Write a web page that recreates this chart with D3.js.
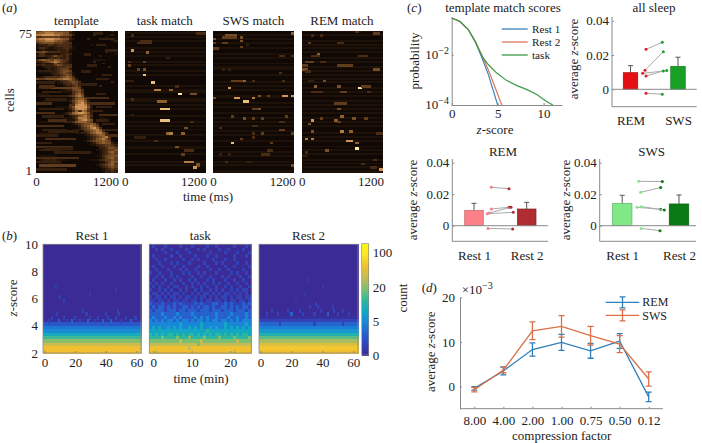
<!DOCTYPE html>
<html><head><meta charset="utf-8">
<script src="https://cdn.jsdelivr.net/npm/d3@7"></script>
<style>
html,body{margin:0;padding:0;background:#fff}
svg{display:block}
text{font-family:"Liberation Serif",serif;fill:#222;font-size:13px}
.soft{shape-rendering:crispEdges;filter:blur(.4px)}
</style></head><body><svg id="c" width="702" height="443"></svg>
<script>
// ---------- DATA ----------
const rasterBins = 27;
const templateRows = [
"446665544443100000000100020","566777666552100000000000000","778888776554200000020000120","334444443332000000000001000",
"677888776552100002000000200","566777655431000000000000012","345555444333000000000000000","122233233332000000100000000",
"111221233333000000000001010","133211222332100000000000000","012111122231000000000000000","445433332221000000000002000",
"133111112232000000000000001","233223533231000000000200000","000123232231000000000000000","356554654331000000000000000",
"223456764321000000020000000","012112533221000000000020000","223222454333000000000000000","001222233343000000000000200",
"000121234442000000000000000","122222234554000000000000000","011112234543100000000000000","000001223454100000000000000",
"112333334565300000000000000","544555566776420000000200000","000011223345431000000000000","000000112334543000000000020",
"000001011233442000000000000","000000000122343000000200000","123334444444554100000000000","000000001122455300000000000",
"000001001111345300000000000","000000000001356400000000000","122222222223467510000000000","000000000001245530000000000",
"000000000001356641000000000","001111111112467752000000000","000000000001367863000000000","000000000001378874100000000",
"000000011113588885200000000","000000000012478874100000000","000000000001367763000000000","000000000123678875200000000",
"000011111124566664200000000","000000000001235675300000000","000000000111247775200110000","000000000001136786500000000",
"011111111222356665410000000","000000000000123455653000000","000000000000012456764100000","000000000000001345786300000",
"000000000000112345677520000","000000000000000134567630000","011111110000011223567753000","000000000000000012345663000",
"000000000000000001234567400","000000000000000001235675300","000000000000000012345565410","000000000000000000124565521",
"000000000000000000112334432","000000000000000000001234443","000000000000000000000223554","122222221111000000001123445",
"000000000000000000000123564","000000000000000000000123454","011111100000000000001134555","000000000000000000000124564",
"012222211100000000111234454","000000000000000000000113465","000011111000000000000123563","000000000000000000001234564",
"011111000000000000000123454","000000000000000000000012343","000000000000000000000012232"];
// faint streaks of the template: [row from top, first bin, bins, level]
const templateStreaks = [[1,19,3,2],[4,21,5,2],[7,20,3,2],[10,23,4,2],[12,16,2,2],[15,19,4,1],[18,17,3,2],[21,15,3,2],[23,22,3,2],[25,20,4,2],
[27,0,6,2],[29,1,5,3],[32,2,6,2],[33,0,4,1],[36,3,7,2],[38,0,5,3],[41,1,8,2],[43,0,6,3],[45,2,7,2],[47,4,6,3],[50,0,9,3],[52,2,8,2],[53,4,10,2],[55,0,7,2],[57,3,10,3],[59,0,5,2],[61,0,12,3],[62,3,9,2],[64,6,12,2],[67,0,14,3],[69,0,8,2],[71,1,12,4],[73,0,10,2],
[28,15,5,2],[33,20,3,2],[35,17,7,3],[38,18,8,3],[40,20,5,2],[42,18,4,2],[44,21,6,3],[47,20,4,2],[49,22,4,2],[52,23,4,2],[55,24,3,3],[39,11,1,3],[42,14,1,3]];

const taskBase = "010101000101010010100101000001011000110101000100101010010010011001000101000";
const swsBase  = "001010100100101001011001000101010011001010010010101001010010010010100101001";
const remBase  = "101001010101001010010101010100101010010101010010101000101010010101001010101";
// [row from top, first bin, bins, level]
const taskHot = [[1,24,3,3],[2,2,1,3],[5,5,4,3],[6,4,5,3],[10,2,1,8],[11,7,1,6],[16,6,1,4],[16,1,1,3],[18,1,1,4],[20,4,1,4],[20,6,1,5],[23,6,1,9],[26,0,3,2],[27,9,1,9],[31,10,2,7],[31,15,1,6],[33,18,1,10],[33,22,2,5],[37,11,3,6],[41,12,3,9],[47,12,3,9],[51,20,1,5],[54,14,1,6],[54,15,1,7],[54,19,1,6],[56,3,4,2],[61,17,1,5],[63,20,3,3],[65,19,1,4],[69,20,3,7],[70,24,1,5],[71,24,1,5],[72,23,1,8],[36,2,1,3],[44,2,1,2],[48,22,1,3],[58,10,1,3],[14,14,1,2],[29,17,1,3]];
const swsHot = [[1,26,1,6],[2,4,4,5],[3,3,5,4],[3,9,1,5],[4,0,1,5],[5,9,1,5],[6,3,2,4],[6,0,1,4],[7,11,1,2],[9,0,2,4],[8,9,1,4],[13,22,2,3],[13,26,1,3],[20,3,1,2],[20,5,1,2],[22,22,1,3],[26,6,5,4],[26,10,1,6],[26,13,1,3],[26,23,1,3],[30,5,1,8],[34,15,1,5],[34,18,1,4],[34,23,2,8],[34,26,1,8],[35,0,1,5],[35,7,2,8],[35,13,1,7],[37,10,2,9],[41,13,3,4],[41,15,1,5],[45,6,1,4],[45,24,1,4],[46,10,1,5],[46,13,1,4],[46,16,1,4],[48,22,2,3],[50,13,2,3],[51,2,1,3],[52,22,2,4],[54,16,1,4],[54,13,1,3],[54,26,1,4],[56,13,1,3],[57,9,1,4],[59,6,1,9],[59,19,1,4],[63,18,2,3],[65,16,3,3],[65,2,1,2],[65,5,1,2],[69,11,2,2],[69,4,1,3],[71,26,1,5]];
const remHot = [[0,18,1,3],[1,24,2,4],[2,3,1,3],[2,6,1,3],[6,2,1,4],[6,12,2,3],[12,5,1,6],[13,3,3,3],[13,19,3,3],[16,1,3,4],[16,6,2,3],[18,12,5,4],[18,0,2,4],[20,0,2,5],[20,24,2,5],[21,1,2,3],[26,7,1,5],[26,2,2,2],[29,4,1,6],[29,12,1,5],[30,19,1,10],[29,20,3,4],[32,3,4,3],[32,13,2,4],[32,22,1,3],[38,11,4,4],[41,12,1,5],[45,13,1,6],[46,6,1,4],[46,17,1,5],[46,21,1,4],[47,3,1,8],[47,11,1,6],[49,2,1,5],[48,12,1,4],[53,13,1,7],[53,16,1,6],[53,3,1,5],[54,25,2,3],[57,1,1,7],[57,3,1,7],[58,15,2,8],[59,18,1,6],[62,18,1,10],[63,8,1,5],[64,1,1,3],[68,24,1,3],[70,20,1,3],[72,23,2,3],[73,26,1,8],[66,0,2,2]];

// z-score rows, top (z = 10) to bottom (z = 2), quarter-unit bins; level 0..10 on the colour bar
const zBins = 32;
const restProfile1 = [0,0,0,0,0,0,0,0,0,0,0,0,0,0,0,0,0,0,0,0,0,0,.3,1.7,2.6,3.2,4.2,5.2,6.2,7.2,8,8];
const restProfile2 = [0,0,0,0,0,0,0,0,0,0,0,0,0,0,0,0,0,0,0,0,0,.2,1,2.1,2.8,3.5,4.6,5.6,6.6,7.6,8.2,8];
// sparse cells of the two rests: [row from top, minute, level]
const rest1Speck = [[22,3,1],[22,9,2],[22,14,1],[22,17,2],[22,22,1],[22,27,2],[22,31,1],[22,36,2],[22,41,2],[22,47,1],[22,53,2],[21,5,1],[21,12,1],[21,19,1],[21,28,1],[21,33,1],[21,39,1],[21,44,1],[21,50,1],[21,56,1],[20,8,1],[20,26,1],[20,38,1],[20,46,1],[19,24,1],[19,45,1],[16,12,1],[15,10,1],[14,28,.6],[12,7,.6],[13,44,.6]];
const rest2Speck = [[20,4,1],[20,11,1],[20,19,2],[20,26,1],[20,33,1],[20,41,2],[20,47,1],[20,54,1],[19,7,1],[19,17,1],[19,24,1],[19,37,1],[19,45,1],[19,50,1],[18,30,1],[18,35,1],[18,44,1],[17,34,1],[16,22,.6],[14,27,.6],[12,38,.6],[10,29,.6],[23,12,1],[23,33,1],[23,50,1]];
const taskRows = [
"0100010000100010000100100000100010","0010100100001000101000010010000100","0000010001000100000010000100010001","0100000100100001000100100000100010",
"0010010000010010100001000100100000","0001000101000100001000101000010010","0100100010010000100100000100100001","0010001000101001000010010010000100",
"1001000100010100101000100001010010","0010100101000010010010001010001001","0100010010100101000101000100100100","1010100100010010101001010010010010",
"0101001011001010010100100101001001","1001010100101001010010101001010110","0110101011010010101101010110101010","1011010110101101011010101101011011",
"1101101011011011010110110101101101","2111211121211112121112211212111212","1212212121122121212212112212121221","2122212221221222122212221222122212",
"2222322223222232222222322223222232","2322232232322223232322322232232232","3232323323233232332323323323232333","3333333333433333343333333433333343",
"3434334343433434343343433434343434","4444444444444444444544444444444444","5454545545454554545454554545454554","5555655556555655556555565555655556",
"6666666666766666676666666666676666","7777777777777777677777777777777777","8888888888888788888888888888888888","8878888888888888888888888888788888"];

const colorbarTicks = [0,5,20,100];

const probZ = {
  rest1: [[0,-.54],[.9,-.68],[1.8,-1],[2.55,-1.47],[3.3,-2.13],[4,-2.8],[5,-4]],
  rest2: [[0,-.54],[.9,-.68],[1.8,-1],[2.55,-1.47],[3.4,-2.1],[4.2,-2.8],[5.45,-4]],
  task:  [[0,-.54],[.9,-.68],[1.8,-1],[2.55,-1.47],[3.3,-2.07],[4,-2.4],[4.9,-2.73],[6,-3.03],[7.1,-3.23],[8.2,-3.39],[9.3,-3.59],[10.2,-3.83],[11,-4]]
};
const sleepBars = [{n:"REM",v:.0097,e:.0138,c:"#e30f12"},{n:"SWS",v:.0134,e:.0187,c:"#17a024"}];
const sleepPairs = [[.0233,.0274],[.0111,.0219],[.0093,.0109],[.0078,.0107],[-.0023,-.0029]];
const remBars = [{n:"Rest 1",v:.0097,e:.0142,c:"#fb8087"},{n:"Rest 2",v:.0106,e:.0148,c:"#b02c30"}];
const remPairs = [[.0244,.0235],[.0106,.0117],[.0081,.0117],[.0076,.0085],[-.0017,-.0021]];
const swsBars = [{n:"Rest 1",v:.0142,e:.0193,c:"#80e886"},{n:"Rest 2",v:.0138,e:.0195,c:"#0a7a14"}];
const swsPairs = [[.0282,.0280],[.0212,.0242],[.0117,.0104],[.0121,.0100],[-.0017,-.0032]];

const compression = ["8.00","4.00","2.00","1.00","0.75","0.50","0.12"];
const remMean = [-.4,3.5,8.3,9.9,8,10.2,-2.3];
const remErr  = [.4,.9,1.5,1.8,1.65,1.65,1.05];
const swsMean = [-.7,3.7,12.5,13.5,11.4,9.5,1.7];
const swsErr  = [.5,.6,2,2.4,2.1,1.9,1.6];

// ---------- HELPERS ----------
const svg = d3.select("#c");
const GREY = "#8a8a8a";
const parula = d3.scaleLinear().domain([0,1.5,3,4,5,6,7,8,9,10])
  .range(["#3b2b96","#2c4fc8","#1a86d8","#12a8c4","#2eb79c","#7dbf72","#c4bb55","#f0c030","#fde22a","#f9fb0e"]).clamp(true);
const copper = d3.scaleLinear().domain([0,1,3,6,8,10]).range(["#0f0804","#1e1108","#4a2c14","#8f5f30","#d09658","#ffe8a0"]);

function label(g,x,y,parts,opt={}){
  const t=g.append("text").attr("x",x).attr("y",y).attr("text-anchor",opt.anchor||"middle");
  if(opt.rot) t.attr("transform",`rotate(-90 ${x} ${y})`);
  if(opt.size) t.style("font-size",opt.size+"px");
  parts.forEach(p=>{const s=t.append("tspan").text(p.t);
    if(p.i) s.style("font-style","italic");
    if(p.sup) s.attr("dy",-5).style("font-size","10px");});
  return t;
}
const zs=[{t:"z",i:1},{t:"-score"}];
const avgZ=[{t:"average "},{t:"z",i:1},{t:"-score"}];
function styleAxis(g){
  g.selectAll(".domain").attr("stroke",GREY);
  g.selectAll(".tick line").attr("stroke",GREY);
  g.selectAll("text").attr("fill","#222").style("font-family",'"Liberation Serif",serif').style("font-size","13px");
}

// ---------- (a) rasters ----------
const rasterPanels=[
 {t:"template",x0:36,x1:117,rows:templateRows,hot:templateStreaks},
 {t:"task match",x0:124.7,x1:205,base:taskBase,hot:taskHot},
 {t:"SWS match",x0:213,x1:293.7,base:swsBase,hot:swsHot},
 {t:"REM match",x0:301.7,x1:382,base:remBase,hot:remHot}];
const rasterY=d3.scaleBand().domain(d3.range(75)).range([30.5,172]);
rasterPanels.forEach((p,i)=>{
  const bx=d3.scaleBand().domain(d3.range(rasterBins)).range([p.x0,p.x1]);
  const g=svg.append("g").attr("class","soft");
  const cell=(r,c,v)=>g.append("rect").attr("x",bx(c)).attr("y",rasterY(r)).attr("width",bx.bandwidth()+.5).attr("height",rasterY.bandwidth()+.5).attr("fill",copper(v));
  d3.range(75).forEach(r=>{d3.range(rasterBins).forEach(c=>{
    const v=p.rows?+p.rows[r][c]:+p.base[r];
    cell(r,c,v);
  });});
  if(p.hot) p.hot.forEach(h=>d3.range(h[2]).forEach(k=>cell(h[0],h[1]+k,h[3])));
  const tx=d3.scaleLinear().domain([0,1400]).range([p.x0,p.x1]);
  const ax=svg.append("g").attr("transform","translate(0,172)").call(d3.axisBottom(tx).tickValues([0,1200]).tickFormat(d3.format("d")).tickSize(0).tickPadding(4));
  ax.select(".domain").remove(); styleAxis(ax);
  ax.selectAll("text").attr("y",5);
  label(svg,(p.x0+p.x1)/2,24.5,[{t:p.t}]);
});
const cellsY=d3.scaleLinear().domain([1,75]).range([170,33]);
const cy=svg.append("g").attr("transform","translate(36,0)").call(d3.axisLeft(cellsY).tickValues([1,75]).tickSize(0).tickPadding(4));
cy.select(".domain").remove(); styleAxis(cy);
label(svg,14,100,[{t:"cells"}],{rot:1});
label(svg,208,201,[{t:"time (ms)"}]);
label(svg,2,12,[{t:"("},{t:"a",i:1},{t:")"}],{anchor:"start"});

// ---------- (b) z-score heat maps ----------
const zY=d3.scaleLinear().domain([2,10]).range([353,244.3]);
const zBand=d3.scaleBand().domain(d3.range(zBins)).range([244.3,353]);
const heatPanels=[
 {t:"Rest 1",x0:43,x1:141,dom:[-1,63],ticks:[0,20,40,60],prof:restProfile1,speck:rest1Speck},
 {t:"task",x0:149.3,x1:251.3,dom:[-1,25.5],ticks:[0,10,20],rows:taskRows},
 {t:"Rest 2",x0:259,x1:358,dom:[-1,63],ticks:[0,20,40,60],prof:restProfile2,speck:rest2Speck}];
heatPanels.forEach(p=>{
  const tx=d3.scaleLinear().domain(p.dom).range([p.x0,p.x1]);
  const g=svg.append("g").attr("class","soft");
  const n=p.rows?p.rows[0].length:60;
  const bx=d3.scaleBand().domain(d3.range(n)).range([p.x0,p.x1]);
  const cell=(r,c,v)=>g.append("rect").attr("x",bx(c)).attr("y",zBand(r)).attr("width",bx.bandwidth()+.5).attr("height",zBand.bandwidth()+.5).attr("fill",parula(v));
  d3.range(zBins).forEach(r=>d3.range(n).forEach(c=>cell(r,c,p.rows?+p.rows[r][c]:p.prof[r])));
  if(p.speck) p.speck.forEach(s=>cell(s[0],s[1],s[2]));
  svg.append("rect").attr("x",p.x0).attr("y",244.3).attr("width",p.x1-p.x0).attr("height",108.7).attr("fill","none").attr("stroke",GREY).attr("stroke-width",.8);
  const ax=svg.append("g").attr("transform","translate(0,353)").call(d3.axisBottom(tx).tickValues(p.ticks).tickSizeInner(-2).tickSizeOuter(0).tickPadding(5));
  ax.select(".domain").remove(); styleAxis(ax);
  label(svg,(p.x0+p.x1)/2,240,[{t:p.t}]);
});
const zAx=svg.append("g").attr("transform","translate(43,0)").call(d3.axisLeft(zY).tickValues([2,4,6,8,10]).tickSize(0).tickPadding(5));
zAx.select(".domain").remove(); styleAxis(zAx);
label(svg,17,298,zs,{rot:1});
label(svg,201,383,[{t:"time (min)"}]);
label(svg,2,240,[{t:"("},{t:"b",i:1},{t:")"}],{anchor:"start"});
// colour bar
const cbY=d3.scaleLinear().domain([0,5,20,100,200]).range([355,321.7,287,252.7,243.7]);
const cbLevel=d3.scaleLinear().domain([243.7,355]).range([10,0]);
const cbG=svg.append("g").attr("class","soft");
d3.range(243.7,355,1).forEach(y=>cbG.append("rect").attr("x",361.7).attr("y",y).attr("width",7).attr("height",1.5).attr("fill",parula(cbLevel(y))));
svg.append("rect").attr("x",361.7).attr("y",243.7).attr("width",7).attr("height",111.3).attr("fill","none").attr("stroke",GREY).attr("stroke-width",.7);
const cbA=svg.append("g").attr("transform","translate(368.7,0)").call(d3.axisRight(cbY).tickValues(colorbarTicks).tickSize(0).tickPadding(4).tickFormat(d3.format("d")));
cbA.select(".domain").remove(); styleAxis(cbA);
label(svg,407,298,[{t:"count"}],{rot:1});

// ---------- (c) probability ----------
const pX=d3.scaleLinear().domain([0,12]).range([451.7,562]);
const pY=d3.scaleLinear().domain([-.5,-4]).range([17,105]);
const px=svg.append("g").attr("transform","translate(0,105)").call(d3.axisBottom(pX).tickValues([0,5,10]).tickSizeInner(-2).tickSizeOuter(0).tickPadding(4));
styleAxis(px);
const py=svg.append("g").attr("transform","translate(451.7,0)").call(d3.axisLeft(pY).tickValues([-2,-4]).tickSizeInner(-2).tickSizeOuter(0).tickPadding(3).tickFormat(""));
styleAxis(py);
[-2,-4].forEach(v=>label(svg,449,pY(v)+4,[{t:"10"},{t:"−"+(-v),sup:1}],{anchor:"end"}));
const pLine=d3.line().x(d=>pX(d[0])).y(d=>pY(d[1]));
const pSeries=[{k:"rest1",n:"Rest 1",c:"#3f83bd"},{k:"rest2",n:"Rest 2",c:"#d9785a"},{k:"task",n:"task",c:"#3d9a45"}];
pSeries.forEach((s,i)=>{
  svg.append("path").attr("d",pLine(probZ[s.k])).attr("fill","none").attr("stroke",s.c).attr("stroke-width",1.2);
  const ly=29+i*13;
  svg.append("line").attr("x1",501.7).attr("x2",527.7).attr("y1",ly).attr("y2",ly).attr("stroke",s.c).attr("stroke-width",1.3);
  label(svg,532,ly+4,[{t:s.n}],{anchor:"start",size:11.2});
});
label(svg,495,134,zs);
label(svg,419,61,[{t:"probability"}],{rot:1});
label(svg,503,12,[{t:"template match scores"}]);
label(svg,407,12,[{t:"("},{t:"c",i:1},{t:")"}],{anchor:"start"});

// ---------- bar panels ----------
function barPanel(o){
  const y=d3.scaleLinear().domain([0,.04]).range([o.y0,o.y4]);
  const x=d3.scalePoint().domain(o.bars.map(b=>b.n)).range(o.centers);
  const g=svg.append("g");
  const ay=g.append("g").attr("transform",`translate(${o.left},0)`).call(d3.axisLeft(y).tickValues([0,.02,.04]).tickSizeInner(-2).tickSizeOuter(0).tickPadding(3).tickFormat(d=>d===0?"0":d3.format(".2f")(d)));
  ay.select(".domain").attr("d",`M0,${o.top}V${o.bottom}`); styleAxis(ay);
  const ax=g.append("g").attr("transform",`translate(0,${o.bottom})`).call(d3.axisBottom(x).tickSize(0).tickPadding(o.pad));
  ax.select(".domain").attr("d",`M${o.left},0H${o.right}`); styleAxis(ax);
  o.bars.forEach(b=>{
    const c=x(b.n);
    g.append("line").attr("x1",c).attr("x2",c).attr("y1",y(b.v)).attr("y2",y(b.e)).attr("stroke","#555").attr("stroke-width",1);
    g.append("line").attr("x1",c-2.5).attr("x2",c+2.5).attr("y1",y(b.e)).attr("y2",y(b.e)).attr("stroke","#555").attr("stroke-width",1);
    g.append("rect").attr("x",c-o.bw/2).attr("y",y(b.v)).attr("width",o.bw).attr("height",y(0)-y(b.v))
      .attr("fill",b.c).attr("stroke",d3.color(b.c).darker(.7)).attr("stroke-width",.7);
  });
  g.append("line").attr("x1",o.left).attr("x2",o.right).attr("y1",y(0)).attr("y2",y(0)).attr("stroke",GREY).attr("stroke-width",1);
  const [cl,cr]=o.centers;
  o.pairs.forEach((p,i)=>{
    const xa=cl+o.dl[i], xb=cr+o.dr[i];
    g.append("line").attr("x1",xa).attr("x2",xb).attr("y1",y(p[0])).attr("y2",y(p[1])).attr("stroke","#aaa").attr("stroke-width",1);
    g.append("circle").attr("cx",xa).attr("cy",y(p[0])).attr("r",1.5).attr("fill",o.dotA);
    g.append("circle").attr("cx",xb).attr("cy",y(p[1])).attr("r",1.5).attr("fill",o.dotB);
  });
  label(svg,o.tx,o.ty,[{t:o.title}]);
  label(svg,o.lx,o.ly,avgZ,{rot:1});
}
barPanel({bars:sleepBars,pairs:sleepPairs,left:612,right:696.7,top:17,bottom:106.7,y0:89.3,y4:20.7,centers:[630.5,678],bw:14.5,pad:9,
  dl:[15.5,14.5,12.2,15.5,15.5],dr:[-15.7,-14.7,-11.3,-14.7,-15.7],dotA:"#dc1c28",dotB:"#1ea030",title:"all sleep",tx:654,ty:12,lx:578,ly:59});
barPanel({bars:remBars,pairs:remPairs,left:452.3,right:548,top:159,bottom:241.3,y0:225.7,y4:162.7,centers:[474,526.7],bw:18.6,pad:9,
  dl:[17.3,17.3,15.3,13.3,14],dr:[-17.7,-17.7,-15.7,-13.4,-14],dotA:"#f0808a",dotB:"#b02c30",title:"REM",tx:503,ty:156,lx:417,ly:200});
barPanel({bars:swsBars,pairs:swsPairs,left:599.7,right:696,top:159,bottom:241.3,y0:225.7,y4:162.7,centers:[622.2,679],bw:19.5,pad:9,
  dl:[16.5,18.5,14.8,19,19],dr:[-16.7,-18.3,-18.3,-14.7,-19],dotA:"#86e48c",dotB:"#0a7a14",title:"SWS",tx:651.7,ty:156,lx:570,ly:200});

// ---------- (d) compression ----------
const dX=d3.scalePoint().domain(compression).range([474.3,648.7]);
const dY=d3.scaleLinear().domain([-5,20]).range([408.9,297.3]);
const dxA=svg.append("g").attr("transform","translate(0,408.7)").call(d3.axisBottom(dX).tickSizeInner(-2).tickSizeOuter(0).tickPadding(7));
dxA.select(".domain").attr("d","M460,0H663"); styleAxis(dxA);
const dyA=svg.append("g").attr("transform","translate(460,0)").call(d3.axisLeft(dY).tickValues([0,10,20]).tickSizeInner(-2).tickSizeOuter(0).tickPadding(5));
styleAxis(dyA);
const dLine=d3.line().x((d,i)=>dX(compression[i])).y(d=>dY(d));
const dSeries=[{n:"REM",m:remMean,e:remErr,c:"#2f7fb8"},{n:"SWS",m:swsMean,e:swsErr,c:"#d9704a"}];
dSeries.forEach((s,k)=>{
  const g=svg.append("g").attr("stroke",s.c).attr("fill","none").attr("stroke-width",1.3);
  g.append("path").attr("d",dLine(s.m));
  s.m.forEach((m,i)=>{
    const c=dX(compression[i]);
    const hi=dY(m+s.e[i]),lo=dY(m-s.e[i]);
    g.append("path").attr("d",`M${c},${hi}V${lo}M${c-3},${hi}H${c+3}M${c-3},${lo}H${c+3}`);
  });
  const ly=302.3+k*13;
  g.append("path").attr("d",`M605.7,${ly}H639.3M622.5,${ly-5.5}V${ly+5.5}M619.5,${ly-5.5}H625.5M619.5,${ly+5.5}H625.5`);
  label(svg,642.3,306+k*14,[{t:s.n}],{anchor:"start",size:12});
});
label(svg,561.7,440,[{t:"compression factor"}]);
label(svg,435,351.7,avgZ,{rot:1});
label(svg,461.7,294,[{t:"×10"},{t:"−3",sup:1}],{anchor:"start"});
label(svg,421.7,291.7,[{t:"("},{t:"d",i:1},{t:")"}],{anchor:"start"});
</script></body></html>
